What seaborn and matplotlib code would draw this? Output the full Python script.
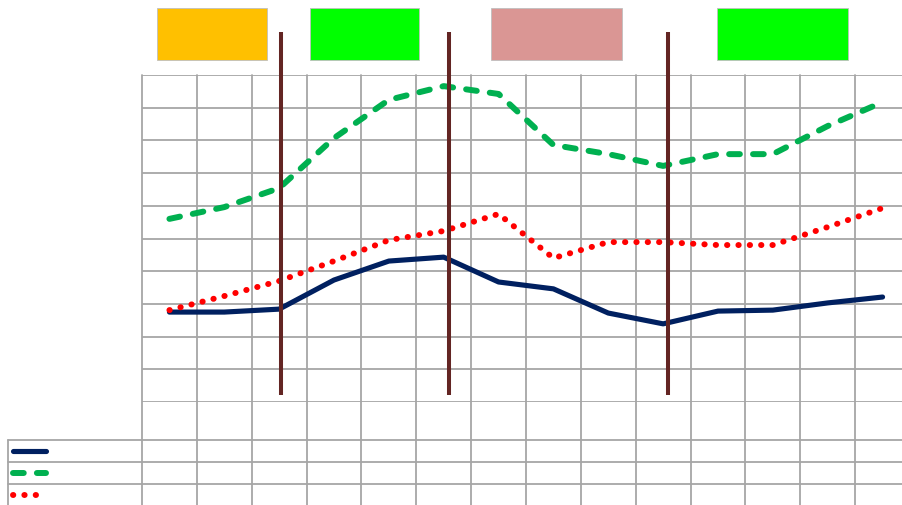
import matplotlib
matplotlib.use("Agg")
import matplotlib.pyplot as plt
from matplotlib.patches import Rectangle
from matplotlib.lines import Line2D
import seaborn as sns
import pandas as pd
import numpy as np

# category positions (14 columns, no labels shown)
periods = list(range(14))

series_navy = [2.75, 2.75, 2.84, 3.73, 4.31, 4.43, 3.67, 3.46, 2.72, 2.39, 2.78, 2.81, 3.03, 3.21]
series_green = [5.60, 5.96, 6.54, 8.07, 9.24, 9.66, 9.42, 7.86, 7.58, 7.22, 7.58, 7.58, 8.44, 9.17]
series_red = [2.81, 3.24, 3.70, 4.31, 4.95, 5.23, 5.75, 4.40, 4.89, 4.89, 4.80, 4.80, 5.35, 5.93]

# phase separators (in category units)
phase_marks = [2.04, 5.09, 9.08]

# top colour boxes: (left px, right px, colour)
boxes = [(157, 267, "#FFC000"), (310, 419, "#00FF00"), (491, 622, "#DA9694"), (717, 848, "#00FF00")]

W, H = 903, 506
fig = plt.figure(figsize=(W / 100, H / 100), dpi=100)
sns.set_style("white")

ax_left, ax_right, ax_top, ax_bot = 142, 910, 76, 403
ax = fig.add_axes([ax_left / W, 1 - ax_bot / H, (ax_right - ax_left) / W, (ax_bot - ax_top) / H])

df = pd.DataFrame({"period": periods, "navy": series_navy, "green": series_green, "red": series_red})

sns.lineplot(data=df, x="period", y="navy", ax=ax, color="#002060", lw=3.7,
             solid_joinstyle="round", solid_capstyle="round", zorder=4)
sns.lineplot(data=df, x="period", y="green", ax=ax, color="#00B050", lw=4.3,
             linestyle=(0, (1.8, 2.2)), dash_capstyle="round", zorder=4)
sns.lineplot(data=df, x="period", y="red", ax=ax, color="#FF0000", lw=4.3,
             linestyle=(0, (0.05, 1.85)), dash_capstyle="round", zorder=4)

ax.set_xlim(-0.5, 13.5)
ax.set_ylim(0, 10)
ax.set_xticks([])
ax.set_yticks([])
ax.set_xlabel("")
ax.set_ylabel("")
for s in ax.spines.values():
    s.set_visible(False)

grid_c = "#A6A6A6"
for yv in range(11):
    ax.axhline(yv, color=grid_c, lw=1.3, zorder=1)

# vertical grid lines run through the data table below the plot
ybottom = -(H - ax_bot) / (ax_bot - ax_top)
trans_x = ax.get_xaxis_transform()
for xv in np.arange(-0.5, 14, 1.0):
    ax.plot([xv, xv], [ybottom, 1], transform=trans_x, color=grid_c, lw=1.3,
            clip_on=False, zorder=1)

# data table rows
xleft = (8 - ax_left) / (ax_right - ax_left)
for py in [441, 463, 485]:
    yy = -(py - ax_bot) / (ax_bot - ax_top)
    ax.plot([xleft, 1], [yy, yy], transform=ax.transAxes, color=grid_c, lw=1.3,
            clip_on=False, zorder=1)
y441 = -(441 - ax_bot) / (ax_bot - ax_top)
ax.plot([xleft, xleft], [y441, ybottom], transform=ax.transAxes, color=grid_c, lw=1.3,
        clip_on=False, zorder=1)

# phase separator lines
y_lo = (ax_bot - 396) / (ax_bot - ax_top)
y_hi = (ax_bot - 33) / (ax_bot - ax_top)
for xm in phase_marks:
    ax.plot([xm, xm], [y_lo, y_hi], transform=trans_x, color="#632523", lw=2.9,
            solid_capstyle="butt", clip_on=False, zorder=5)

# colour boxes at top
for x0, x1, c in boxes:
    fig.add_artist(Rectangle((x0 / W, 1 - 61 / H), (x1 - x0) / W, 52 / H,
                             transform=fig.transFigure, facecolor=c,
                             edgecolor="#BFBFBF", lw=0.6))

# legend keys in the data table
def key(py, **kw):
    fig.add_artist(Line2D([13 / W, 46 / W], [1 - py / H, 1 - py / H],
                          transform=fig.transFigure, **kw))

key(452, color="#002060", lw=3.7, solid_capstyle="round")
key(474, color="#00B050", lw=4.3, linestyle=(0, (1.8, 2.2)), dash_capstyle="round")
key(496, color="#FF0000", lw=4.3, linestyle=(0, (0.05, 1.85)), dash_capstyle="round")

fig.savefig("out.png", dpi=100)
